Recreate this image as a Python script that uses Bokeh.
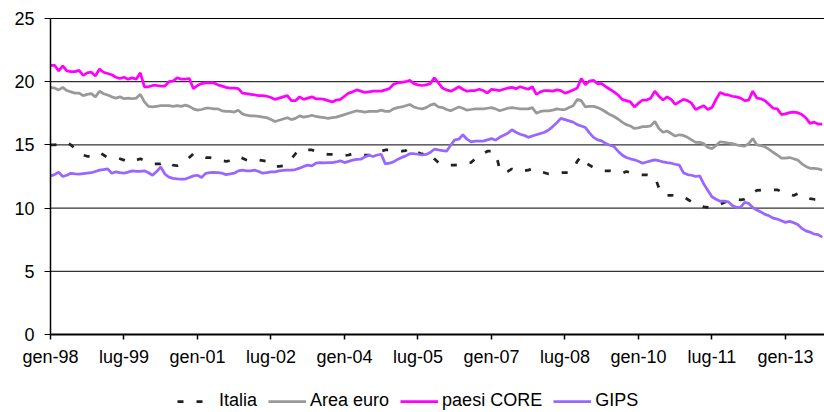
from bokeh.plotting import figure
from bokeh.models import Range1d, FixedTicker, Legend, LegendItem, ColumnDataSource
from bokeh.embed import file_html
from bokeh.resources import INLINE

# Monthly data, gen-98 .. ott-13 (month index 0 = gen-98)
tick_labels = ["gen-98", "lug-99", "gen-01", "lug-02", "gen-04", "lug-05",
               "gen-07", "lug-08", "gen-10", "lug-11", "gen-13"]
series_names = ["Italia", "Area euro", "paesi CORE", "GIPS"]

italia = [
    15.0, 15.0, 15.05, 15.1, 15.2, 15.0, 14.7, 14.4, 14.2, 14.1,
    14.1, 14.2, 14.4, 14.2, 14.0, 14.0, 14.0, 13.9, 13.8, 13.65,
    13.65, 13.8, 13.9, 13.75, 13.6, 13.5, 13.5, 13.5, 13.7, 13.6,
    13.4, 13.35, 13.5, 13.7, 14.0, 14.3, 14.25, 14.1, 14.0, 14.0,
    13.95, 13.9, 13.75, 13.7, 13.75, 13.8, 14.05, 13.95, 13.8, 13.7,
    13.8, 13.8, 13.75, 13.7, 13.4, 13.3, 13.3, 13.35, 13.6, 13.9,
    14.3, 14.6, 14.65, 14.6, 14.6, 14.5, 14.4, 14.3, 14.25, 14.25,
    14.25, 14.2, 14.15, 14.2, 14.3, 14.25, 14.2, 14.2, 14.2, 14.2,
    14.35, 14.5, 14.6, 14.6, 14.6, 14.55, 14.5, 14.55, 14.75, 14.6,
    14.4, 14.26, 14.4, 14.3, 13.9, 13.6, 13.45, 13.4, 13.4, 13.4,
    13.45, 13.5, 13.6, 13.6, 13.9, 14.2, 14.3, 14.5, 14.5, 14.4,
    13.1, 12.75, 12.9, 13.1, 12.95, 12.9, 12.95, 13.0, 13.13, 13.0,
    12.9, 12.8, 12.7, 12.7, 12.75, 12.8, 12.8, 12.8, 13.1, 13.7,
    14.1, 13.6, 13.4, 13.2, 13.1, 12.95, 12.95, 12.95, 12.9, 12.85,
    12.76, 12.9, 12.8, 12.7, 12.65, 12.63, 12.63, 12.6, 12.5, 11.6,
    11.05, 11.0, 11.0, 11.03, 11.03, 10.9, 10.7, 10.5, 10.3, 10.2,
    10.1, 10.05, 10.05, 10.18, 10.3, 10.45, 10.55, 10.7, 10.7, 10.65,
    10.7, 10.95, 11.2, 11.4, 11.42, 11.42, 11.45, 11.45, 11.45, 11.3,
    11.2, 11.1, 11.0, 11.15, 11.1, 10.9, 10.75, 10.7, 10.7, 10.7,
]

area_euro = [
    19.55, 19.5, 19.35, 19.55, 19.3, 19.2, 19.1, 19.1, 18.9, 19.0,
    19.05, 18.8, 19.25, 19.05, 18.95, 18.8, 18.7, 18.8, 18.65, 18.7,
    18.65, 18.7, 19.0, 18.4, 18.05, 18.0, 18.05, 18.1, 18.1, 18.1,
    18.05, 18.1, 18.05, 18.15, 18.05, 17.85, 17.75, 17.8, 17.9, 17.9,
    17.85, 17.85, 17.7, 17.65, 17.65, 17.6, 17.75, 17.45, 17.35, 17.3,
    17.3, 17.25, 17.2, 17.15, 17.0, 16.85, 16.95, 17.05, 17.15, 17.0,
    17.1, 17.3, 17.2, 17.25, 17.35, 17.25, 17.2, 17.15, 17.1, 17.15,
    17.2, 17.3, 17.4, 17.5, 17.6, 17.7, 17.65, 17.6, 17.65, 17.65,
    17.65, 17.75, 17.65, 17.65, 17.85, 17.95, 18.0, 18.1, 18.2, 18.0,
    17.9, 17.85, 17.95, 18.15, 18.25, 18.0, 17.95, 17.8, 17.7, 17.85,
    18.0, 17.9, 17.75, 17.8, 17.85, 17.85, 17.85, 17.9, 17.95, 17.85,
    17.7, 17.8, 17.9, 17.95, 17.9, 17.85, 17.85, 17.85, 17.95, 17.5,
    17.65, 17.7, 17.7, 17.75, 17.85, 17.8, 17.8, 17.95, 18.1, 18.6,
    18.5, 18.0, 18.05, 18.05, 17.95, 17.8, 17.6, 17.4, 17.25, 17.05,
    16.8, 16.6, 16.5, 16.3, 16.35, 16.45, 16.45, 16.5, 16.85, 16.3,
    16.0, 16.1, 15.9, 15.7, 15.8, 15.75, 15.6, 15.4, 15.2, 15.2,
    15.1, 14.8, 14.7, 14.95, 15.25, 15.2, 15.15, 15.1, 15.0, 14.95,
    14.9, 15.1, 15.5, 15.0, 14.95, 14.85, 14.65, 14.4, 14.2, 13.95,
    13.95, 14.0, 13.9, 13.8, 13.5, 13.3, 13.15, 13.15, 13.1, 13.0,
]

paesi_core = [
    21.3, 21.3, 20.85, 21.25, 20.85, 20.8, 20.8, 20.9, 20.5, 20.7,
    20.75, 20.45, 21.0, 20.75, 20.65, 20.55, 20.35, 20.25, 20.35, 20.2,
    20.3, 20.2, 20.7, 19.6, 19.6, 19.7, 19.7, 19.65, 19.65, 20.0,
    20.05, 20.3, 20.2, 20.2, 20.25, 19.45, 19.7, 19.85, 19.9, 19.9,
    19.9, 19.75, 19.65, 19.55, 19.5, 19.5, 19.45, 19.1, 19.05, 19.0,
    18.95, 18.9, 18.9, 18.85, 18.75, 18.6, 18.7, 18.8, 18.9, 18.5,
    18.5, 18.8, 18.6, 18.7, 18.8, 18.65, 18.65, 18.6, 18.5, 18.4,
    18.55, 18.6, 18.85, 19.1, 19.2, 19.35, 19.25, 19.15, 19.2, 19.25,
    19.25, 19.25, 19.35, 19.45, 19.8, 19.9, 19.95, 20.0, 20.1, 19.85,
    19.75, 19.7, 19.75, 19.85, 20.3, 19.9, 19.5, 19.35, 19.25, 19.4,
    19.6, 19.4, 19.25, 19.3, 19.3, 19.4, 19.3, 19.1, 19.4, 19.35,
    19.3, 19.4, 19.5, 19.55, 19.45, 19.6, 19.5, 19.4, 19.6, 19.0,
    19.2, 19.3, 19.3, 19.25, 19.35, 19.3, 19.1, 19.2, 19.35, 19.5,
    20.25, 19.75, 20.05, 20.1, 19.85, 19.85, 19.6, 19.4, 19.2, 18.95,
    18.6, 18.5, 18.4, 18.0, 18.3, 18.55, 18.55, 18.7, 19.25, 18.85,
    18.55, 18.8, 18.6, 18.2, 18.4, 18.6, 18.5, 18.3, 17.8, 17.95,
    18.1, 17.8, 17.95, 18.6, 19.15, 19.0, 18.95, 18.85, 18.8, 18.7,
    18.5, 18.55, 19.25, 18.7, 18.65, 18.5, 18.2, 17.9, 17.85, 17.4,
    17.45, 17.55, 17.6, 17.55, 17.4, 17.15, 16.7, 16.8, 16.65, 16.65,
]

gips = [
    12.55, 12.65, 12.85, 12.5, 12.6, 12.75, 12.7, 12.68, 12.72, 12.76,
    12.8, 12.9, 13.0, 13.05, 13.1, 12.76, 12.87, 12.8, 12.76, 12.85,
    12.95, 12.9, 12.9, 12.95, 12.8, 12.6, 12.9, 13.25, 12.7, 12.45,
    12.35, 12.32, 12.3, 12.3, 12.42, 12.55, 12.6, 12.42, 12.75, 12.8,
    12.82, 12.8, 12.76, 12.65, 12.7, 12.76, 12.95, 13.0, 12.95, 12.95,
    13.0, 12.9, 12.76, 12.8, 12.87, 12.87, 12.95, 12.98, 13.0, 13.0,
    13.05, 13.16, 13.3, 13.4, 13.34, 13.55, 13.6, 13.58, 13.6, 13.6,
    13.65, 13.74, 13.6, 13.7, 13.8, 13.85, 13.87, 14.05, 14.18, 14.08,
    14.2, 14.26, 13.5, 13.55, 13.66, 13.85, 14.0, 14.13, 14.3, 14.3,
    14.26, 14.2, 14.25, 14.4, 14.66, 14.6, 14.55, 14.5, 14.97, 15.4,
    15.45, 15.8, 15.45, 15.24, 15.3, 15.3, 15.3, 15.4, 15.5, 15.37,
    15.6, 15.76, 15.92, 16.2, 16.0, 15.84, 15.76, 15.6, 15.7, 15.8,
    15.9, 16.0, 16.18, 16.45, 16.75, 17.1, 17.0, 16.9, 16.8, 16.6,
    16.5, 16.37, 15.95, 15.6, 15.4, 15.32, 15.1, 14.97, 14.87, 14.5,
    14.2, 14.0, 13.9, 13.82, 13.7, 13.55, 13.65, 13.74, 13.82, 13.75,
    13.66, 13.6, 13.55, 13.47, 13.4, 12.8, 12.65, 12.6, 12.5, 12.55,
    11.9, 11.4, 10.9, 10.7, 10.55, 10.55, 10.5, 10.2, 10.05, 10.05,
    10.45, 10.37, 10.05, 9.85, 9.7, 9.5, 9.39, 9.2, 9.13, 9.0,
    8.87, 8.95, 8.85, 8.7, 8.4, 8.2, 8.1, 7.95, 7.9, 7.7,
]

months = list(range(len(paesi_core)))
tick_months = [i * 18 for i in range(len(tick_labels))]
y_ticks = [0, 5, 10, 15, 20, 25]

FONT = "Liberation Sans"

# The frame covers the whole figure; the value axis (0..25) and the month
# axis are pinned at 0 inside it, leaving room for the tick labels on the
# left, a top margin, and the legend underneath.
x_end = 189.56
px_per_month = 774 / x_end
x_start = -50 / px_per_month
px_per_unit = 316 / 25.0
y_bottom = -78 / px_per_unit
y_top = 25 + 18 / px_per_unit

p = figure(width=824, height=412, output_backend="svg", toolbar_location=None,
           x_range=Range1d(x_start, x_end), y_range=Range1d(y_bottom, y_top),
           min_border_left=0, min_border_right=0, min_border_top=0,
           min_border_bottom=0)
p.outline_line_color = None
p.background_fill_color = "white"
p.border_fill_color = "white"

p.xgrid.grid_line_color = None
grid_src = ColumnDataSource(dict(x0=[0] * len(y_ticks), x1=[x_end] * len(y_ticks),
                                 y=y_ticks))
p.ygrid.grid_line_color = None
p.segment(x0="x0", y0="y", x1="x1", y1="y", source=grid_src,
          line_color="black", line_width=1)

p.yaxis.fixed_location = 0
p.yaxis.ticker = FixedTicker(ticks=y_ticks)
p.yaxis.bounds = (0, 25)
p.yaxis.axis_line_color = "black"
p.yaxis.axis_line_width = 1.5
p.yaxis.major_tick_line_color = "black"
p.yaxis.major_tick_in = 0
p.yaxis.major_tick_out = 6
p.yaxis.minor_tick_line_color = None
p.yaxis.major_label_standoff = 10
p.yaxis.major_label_text_font = FONT
p.yaxis.major_label_text_font_size = "18px"
p.yaxis.major_label_text_color = "black"

p.xaxis.fixed_location = 0
p.xaxis.bounds = (0, x_end)
p.xaxis.ticker = FixedTicker(ticks=tick_months)
p.xaxis.major_label_overrides = {m: lab for m, lab in zip(tick_months, tick_labels)}
p.xaxis.axis_line_color = "black"
p.xaxis.axis_line_width = 2
p.xaxis.major_tick_line_color = "black"
p.xaxis.major_tick_line_width = 1.5
p.xaxis.major_tick_in = 0
p.xaxis.major_tick_out = 5
p.xaxis.minor_tick_line_color = None
p.xaxis.major_label_standoff = 7
p.xaxis.major_label_text_font = FONT
p.xaxis.major_label_text_font_size = "18px"
p.xaxis.major_label_text_color = "black"

src = ColumnDataSource(dict(m=months, italia=italia, area=area_euro,
                            core=paesi_core, gips=gips))

r_it = p.line("m", "italia", source=src, line_color="#222222", line_width=2.75,
              line_dash="6 13")
r_ea = p.line("m", "area", source=src, line_color="#999999", line_width=2.75)
r_co = p.line("m", "core", source=src, line_color="#FF00FF", line_width=2.75)
r_gi = p.line("m", "gips", source=src, line_color="#9966FF", line_width=2.75)

legend = Legend(items=[LegendItem(label=series_names[0], renderers=[r_it]),
                       LegendItem(label=series_names[1], renderers=[r_ea]),
                       LegendItem(label=series_names[2], renderers=[r_co]),
                       LegendItem(label=series_names[3], renderers=[r_gi])],
                orientation="horizontal", location=(177, 1),
                glyph_width=38, glyph_height=20, label_standoff=4, spacing=11,
                padding=0, margin=0, border_line_color=None,
                background_fill_alpha=0,
                label_text_font=FONT, label_text_font_size="18px",
                label_text_color="black")
p.add_layout(legend, "center")

open("out.html", "w").write(file_html(p, INLINE))
